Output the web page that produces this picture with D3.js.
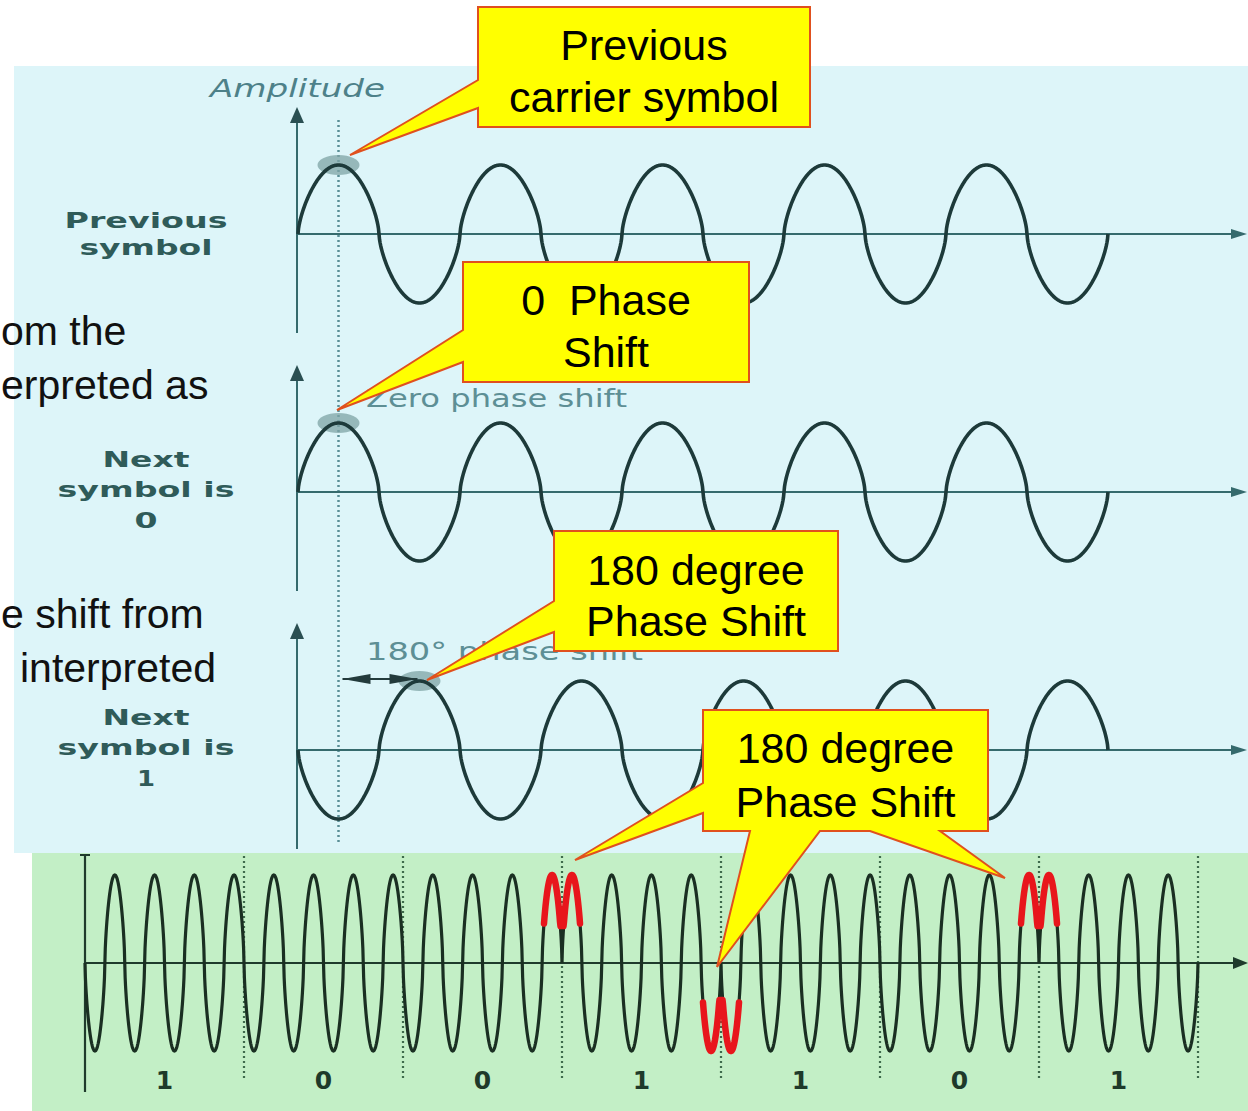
<!DOCTYPE html>
<html>
<head>
<meta charset="utf-8">
<script src="https://cdn.jsdelivr.net/npm/d3@7"></script>
<style>
  html, body { margin: 0; padding: 0; background: #ffffff; }
  svg { display: block; }
</style>
</head>
<body>
<svg id="chart" width="1248" height="1111"></svg>
<script>
// ---------------- DATA ----------------
const topPhaseDeg = [0, 0, 180];            // phase of each of the three upper carriers
const topCycles = 5;                        // carrier cycles drawn in each upper panel
const topLabels = [["Previous", "symbol"], ["Next", "symbol is", "0"], ["Next", "symbol is", "1"]];
const topNotes = ["", "Zero phase shift", "180\u00B0 phase shift"];
const bits = [1, 0, 0, 1, 1, 0, 1];         // bit stream of the lower panel
const bitLabels = ["1", "0", "0", "1", "1", "0", "1"];
const cyclesPerBit = 4;
const sideText = ["om the", "erpreted as", "e shift from", "interpreted"];
const calloutTexts = [["Previous", "carrier symbol"], ["0  Phase", "Shift"], ["180 degree", "Phase Shift"], ["180 degree", "Phase Shift"]];

// ---------------- LAYOUT ----------------
const svg = d3.select("#chart");
const W = 1248, H = 1111;
const cyanCol = "#ddf5f9", greenCol = "#c3efc6";
const waveCol = "#1d3a3a", axisCol = "#356a6d", labelCol = "#2f5b59", noteCol = "#5d8f95";
const topBase = [234, 492, 750];
const topAmp = 69;
const xTop = d3.scaleLinear().domain([0, topCycles]).range([298, 1108]);
const xBot = d3.scaleLinear().domain([0, bits.length]).range([85, 1198]);
const yBot = d3.scaleLinear().domain([-1, 1]).range([1051, 875]);
// carrier drawing shape: slightly rounded-top sine like the printed figure
const shape = s => Math.sign(s) * Math.pow(Math.abs(s), 0.65);

// backgrounds
svg.append("rect").attr("x", 14).attr("y", 66).attr("width", W - 14).attr("height", 853 - 66).attr("fill", cyanCol);
svg.append("rect").attr("x", 32).attr("y", 853).attr("width", W - 32).attr("height", H - 853).attr("fill", greenCol);

// slide text peeking through on the left
const sideY = [345, 399, 628, 682], sideX = [1, 1, 1, 20];
svg.selectAll("text.side").data(sideText).join("text")
  .attr("class", "side")
  .attr("x", (d, i) => sideX[i]).attr("y", (d, i) => sideY[i])
  .attr("font-family", "Liberation Sans, Arial, sans-serif")
  .attr("font-size", 41).attr("fill", "#111")
  .text(d => d);

// dotted reference line
svg.append("line")
  .attr("x1", xTop(0.25)).attr("x2", xTop(0.25)).attr("y1", 120).attr("y2", 842)
  .attr("stroke", "#5a8f96").attr("stroke-width", 2.5).attr("stroke-dasharray", "2,3");

// "Amplitude"
svg.append("text").attr("x", 210).attr("y", 97)
  .attr("font-family", "DejaVu Sans, sans-serif").attr("font-style", "italic")
  .attr("font-size", 24).attr("fill", "#4d8189")
  .attr("textLength", 175).attr("lengthAdjust", "spacingAndGlyphs")
  .text("Amplitude");

const lineGen = d3.line().x(d => d[0]).y(d => d[1]);
const labelLayout = [
  [{ y: 228, w: 163 }, { y: 255, w: 133 }],
  [{ y: 467, w: 87 }, { y: 497, w: 177 }, { y: 528, w: 23 }],
  [{ y: 725, w: 87 }, { y: 755, w: 177 }, { y: 786, w: 18 }]
];

topPhaseDeg.forEach((ph, p) => {
  const base = topBase[p];
  const y = d3.scaleLinear().domain([-1, 1]).range([base + topAmp, base - topAmp]);
  const g = svg.append("g");
  // axes
  g.append("line").attr("x1", xTop(0) - 1).attr("x2", 1234).attr("y1", base).attr("y2", base)
    .attr("stroke", axisCol).attr("stroke-width", 2);
  g.append("path").attr("d", `M1247,${base} L1231,${base - 5} L1231,${base + 5} Z`).attr("fill", axisCol);
  g.append("line").attr("x1", xTop(0) - 1).attr("x2", xTop(0) - 1).attr("y1", base + 99).attr("y2", base - 114)
    .attr("stroke", axisCol).attr("stroke-width", 2);
  g.append("path").attr("d", `M${xTop(0) - 1},${base - 127} L${xTop(0) - 8},${base - 111} L${xTop(0) + 6},${base - 111} Z`).attr("fill", "#2a4f52");
  // highlight ellipse at the first crest
  const crest = ph === 0 ? 0.25 : 0.75;
  g.append("ellipse").attr("cx", xTop(crest)).attr("cy", y(1)).attr("rx", 21).attr("ry", 10)
    .attr("fill", "#7ea3a4").attr("opacity", 0.75);
  // wave
  const pts = d3.range(0, topCycles * 300 + 1).map(k => {
    const c = k / 300;
    return [xTop(c), y(shape(Math.sin(2 * Math.PI * c + ph * Math.PI / 180)))];
  });
  g.append("path").attr("d", lineGen(pts)).attr("fill", "none")
    .attr("stroke", waveCol).attr("stroke-width", 3.6);
  // labels
  topLabels[p].forEach((t, j) => {
    g.append("text").attr("x", 146).attr("y", labelLayout[p][j].y)
      .attr("text-anchor", "middle")
      .attr("font-family", "DejaVu Sans, Verdana, sans-serif").attr("font-weight", "bold")
      .attr("font-size", 22).attr("fill", labelCol)
      .attr("textLength", labelLayout[p][j].w).attr("lengthAdjust", "spacingAndGlyphs")
      .text(t);
  });
  // notes
  if (topNotes[p]) {
    g.append("text").attr("x", 366).attr("y", p === 1 ? 407 : 660)
      .attr("font-family", "DejaVu Sans, sans-serif").attr("font-size", 24).attr("fill", noteCol)
      .attr("textLength", p === 1 ? 261 : 277).attr("lengthAdjust", "spacingAndGlyphs")
      .text(topNotes[p]);
  }
  // double arrow for the 180 shift
  if (ph === 180) {
    const ay = y(1) - 2, a0 = xTop(0.25) + 4, a1 = xTop(0.75) - 2;
    g.append("line").attr("x1", a0).attr("x2", a1).attr("y1", ay).attr("y2", ay)
      .attr("stroke", "#233b3c").attr("stroke-width", 2);
    g.append("path").attr("d", `M${a0},${ay} L${a0 + 28},${ay - 5} L${a0 + 28},${ay + 5} Z`).attr("fill", "#233b3c");
    g.append("path").attr("d", `M${a1},${ay} L${a1 - 28},${ay - 5} L${a1 - 28},${ay + 5} Z`).attr("fill", "#233b3c");
  }
});

// ---------------- LOWER PANEL ----------------
const phases = [];
bits.reduce((acc, b) => { const v = acc + b * Math.PI; phases.push(v); return v; }, 0);
const wave = t => {
  const i = Math.min(bits.length - 1, Math.floor(t));
  return Math.sin(2 * Math.PI * cyclesPerBit * t + phases[i]);
};
const gb = svg.append("g");
const bAxis = "#1f3b2c";
// dotted bit boundaries
gb.selectAll("line.bd").data(d3.range(1, bits.length + 1)).join("line")
  .attr("x1", d => xBot(d)).attr("x2", d => xBot(d)).attr("y1", 856).attr("y2", 1078)
  .attr("stroke", "#3e6a4c").attr("stroke-width", 2.2).attr("stroke-dasharray", "2,3");
// axes
gb.append("line").attr("x1", xBot(0)).attr("x2", 1236).attr("y1", yBot(0)).attr("y2", yBot(0))
  .attr("stroke", bAxis).attr("stroke-width", 2.2);
gb.append("path").attr("d", `M1248,${yBot(0)} L1233,${yBot(0) - 6} L1233,${yBot(0) + 6} Z`).attr("fill", bAxis);
gb.append("line").attr("x1", xBot(0)).attr("x2", xBot(0)).attr("y1", 855).attr("y2", 1092)
  .attr("stroke", bAxis).attr("stroke-width", 2.2);
gb.append("line").attr("x1", xBot(0) - 5).attr("x2", xBot(0) + 5).attr("y1", 855).attr("y2", 855)
  .attr("stroke", bAxis).attr("stroke-width", 2);
// wave
const N = bits.length * 400;
const bpts = d3.range(0, N + 1).map(k => {
  const t = k / 400;
  return [xBot(t), yBot(shape(wave(Math.min(t, bits.length - 1e-9))))];
});
gb.append("path").attr("d", lineGen(bpts)).attr("fill", "none")
  .attr("stroke", "#1a2f22").attr("stroke-width", 3.2);
// bit labels
gb.selectAll("text.bit").data(bitLabels).join("text")
  .attr("class", "bit")
  .attr("x", (d, i) => xBot(i + 0.5)).attr("y", 1089)
  .attr("text-anchor", "middle")
  .attr("font-family", "DejaVu Sans, sans-serif").attr("font-weight", "bold")
  .attr("font-size", 25).attr("fill", "#1e3a2a")
  .text(d => d);
// red highlight marks at the phase reversals
const bitW = xBot(1) - xBot(0);
bits.forEach((b, i) => {
  if (i === 0 || b !== 1) return;
  const sgn = Math.sign(wave(i - 1 / (4 * cyclesPerBit)));
  const pts = d3.range(-18, 18.01, 0.5).map(d => {
    const v = shape(Math.abs(Math.sin(2 * Math.PI * cyclesPerBit * d / bitW)));
    return [xBot(i) + d, yBot(sgn * Math.max(v, 0.42))];
  });
  gb.append("path").attr("d", lineGen(pts)).attr("fill", "none")
    .attr("stroke", "#e8161c").attr("stroke-width", 6.5).attr("stroke-linecap", "round").attr("stroke-linejoin", "round");
});

// ---------------- CALLOUTS ----------------
const callouts = [
  { box: [478, 7, 810, 127], tails: [{ side: "left", a: 108, b: 80, tip: [350, 155] }], base: [60, 112] },
  { box: [463, 262, 749, 382], tails: [{ side: "left", a: 362, b: 330, tip: [337, 410] }], base: [315, 367] },
  { box: [554, 531, 838, 651], tails: [{ side: "left", a: 632, b: 601, tip: [427, 680] }], base: [585, 636] },
  { box: [703, 710, 988, 831], tails: [
      { side: "bottom", a: 940, b: 870, tip: [1005, 878] },
      { side: "bottom", a: 820, b: 750, tip: [717, 967] },
      { side: "left", a: 813, b: 783, tip: [575, 860] }], base: [763, 817] }
];
function calloutPath(c) {
  const [x0, y0, x1, y1] = c.box;
  let d = `M${x0},${y0} L${x1},${y0} L${x1},${y1}`;
  c.tails.filter(t => t.side === "bottom").forEach(t => {
    d += ` L${t.a},${y1} L${t.tip[0]},${t.tip[1]} L${t.b},${y1}`;
  });
  d += ` L${x0},${y1}`;
  c.tails.filter(t => t.side === "left").forEach(t => {
    d += ` L${x0},${t.a} L${t.tip[0]},${t.tip[1]} L${x0},${t.b}`;
  });
  return d + " Z";
}
callouts.forEach((c, k) => {
  const g = svg.append("g");
  g.append("path").attr("d", calloutPath(c)).attr("fill", "#ffff00")
    .attr("stroke", "#e0501e").attr("stroke-width", 2).attr("stroke-linejoin", "miter");
  const cx = (c.box[0] + c.box[2]) / 2;
  calloutTexts[k].forEach((t, j) => {
    g.append("text").attr("x", cx).attr("y", c.base[j])
      .attr("text-anchor", "middle").style("white-space", "pre")
      .attr("font-family", "Liberation Sans, Arial, sans-serif")
      .attr("font-size", 43).attr("fill", "#000")
      .text(t);
  });
});
</script>
</body>
</html>
